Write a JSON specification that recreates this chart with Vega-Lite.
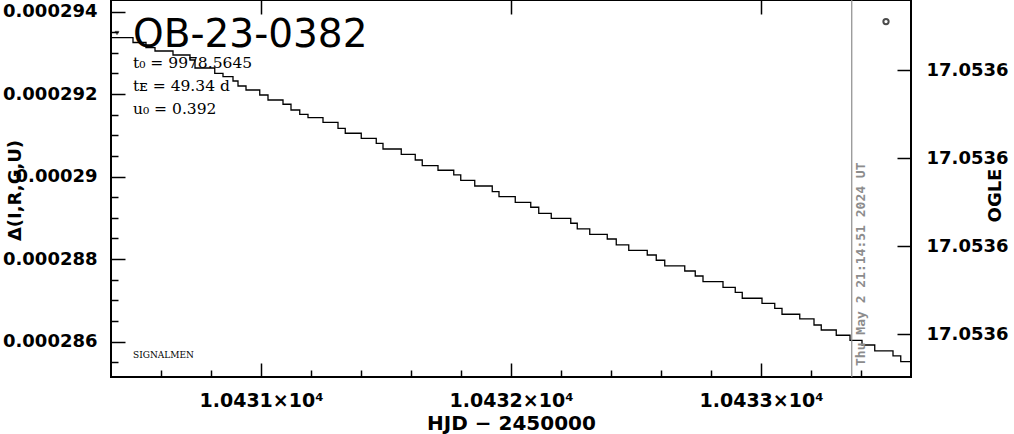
{
  "$schema": "https://vega.github.io/schema/vega-lite/v6.json",
  "width": 800,
  "height": 377,
  "autosize": {"type": "none"},
  "padding": {"left": 111, "top": 0, "right": 103, "bottom": 57},
  "background": "white",
  "config": {
    "view": {"stroke": "black", "strokeWidth": 2},
    "font": "DejaVu Sans",
    "axis": {"domain": false, "grid": false, "tickColor": "black", "tickOpacity": 1, "tickWidth": 1.5, "labelColor": "black", "titleColor": "black"}
  },
  "title": {
    "text": "OB-23-0382",
    "subtitle": ["t₀ = 9978.5645", "tᴇ = 49.34 d", "u₀ = 0.392"],
    "orient": "top",
    "anchor": "start",
    "frame": "group",
    "offset": 0,
    "dx": 22,
    "dy": 118,
    "font": "DejaVu Sans",
    "fontSize": 39,
    "fontWeight": "normal",
    "color": "black",
    "subtitleFont": "DejaVu Serif",
    "subtitleFontSize": 15.5,
    "subtitleColor": "black",
    "subtitleLineHeight": 23,
    "subtitlePadding": 1
  },
  "layer": [
    {
      "data": {"values": [
        {"hjd": 10430.400, "delta": 0.000293366},
        {"hjd": 10430.488, "delta": 0.000293250},
        {"hjd": 10430.540, "delta": 0.000293124},
        {"hjd": 10430.576, "delta": 0.000293044},
        {"hjd": 10430.648, "delta": 0.000292947},
        {"hjd": 10430.716, "delta": 0.000292825},
        {"hjd": 10430.736, "delta": 0.000292632},
        {"hjd": 10430.815, "delta": 0.000292503},
        {"hjd": 10430.848, "delta": 0.000292421},
        {"hjd": 10430.888, "delta": 0.000292316},
        {"hjd": 10430.908, "delta": 0.000292195},
        {"hjd": 10430.940, "delta": 0.000292098},
        {"hjd": 10430.995, "delta": 0.000291977},
        {"hjd": 10431.028, "delta": 0.000291856},
        {"hjd": 10431.088, "delta": 0.000291752},
        {"hjd": 10431.120, "delta": 0.000291613},
        {"hjd": 10431.155, "delta": 0.000291509},
        {"hjd": 10431.188, "delta": 0.000291427},
        {"hjd": 10431.248, "delta": 0.000291315},
        {"hjd": 10431.308, "delta": 0.000291170},
        {"hjd": 10431.337, "delta": 0.000291049},
        {"hjd": 10431.401, "delta": 0.000290927},
        {"hjd": 10431.461, "delta": 0.000290806},
        {"hjd": 10431.488, "delta": 0.000290668},
        {"hjd": 10431.561, "delta": 0.000290539},
        {"hjd": 10431.617, "delta": 0.000290401},
        {"hjd": 10431.645, "delta": 0.000290263},
        {"hjd": 10431.708, "delta": 0.000290152},
        {"hjd": 10431.771, "delta": 0.000290038},
        {"hjd": 10431.799, "delta": 0.000289909},
        {"hjd": 10431.855, "delta": 0.000289771},
        {"hjd": 10431.925, "delta": 0.000289633},
        {"hjd": 10431.952, "delta": 0.000289512},
        {"hjd": 10432.017, "delta": 0.000289376},
        {"hjd": 10432.079, "delta": 0.000289255},
        {"hjd": 10432.111, "delta": 0.000289109},
        {"hjd": 10432.161, "delta": 0.000288988},
        {"hjd": 10432.239, "delta": 0.000288867},
        {"hjd": 10432.265, "delta": 0.000288729},
        {"hjd": 10432.315, "delta": 0.000288600},
        {"hjd": 10432.385, "delta": 0.000288486},
        {"hjd": 10432.421, "delta": 0.000288341},
        {"hjd": 10432.471, "delta": 0.000288212},
        {"hjd": 10432.545, "delta": 0.000288098},
        {"hjd": 10432.581, "delta": 0.000287970},
        {"hjd": 10432.615, "delta": 0.000287832},
        {"hjd": 10432.695, "delta": 0.000287710},
        {"hjd": 10432.737, "delta": 0.000287589},
        {"hjd": 10432.768, "delta": 0.000287451},
        {"hjd": 10432.848, "delta": 0.000287315},
        {"hjd": 10432.897, "delta": 0.000287194},
        {"hjd": 10432.925, "delta": 0.000287049},
        {"hjd": 10433.004, "delta": 0.000286927},
        {"hjd": 10433.055, "delta": 0.000286806},
        {"hjd": 10433.084, "delta": 0.000286661},
        {"hjd": 10433.155, "delta": 0.000286547},
        {"hjd": 10433.212, "delta": 0.000286401},
        {"hjd": 10433.241, "delta": 0.000286280},
        {"hjd": 10433.301, "delta": 0.000286152},
        {"hjd": 10433.356, "delta": 0.000286030},
        {"hjd": 10433.404, "delta": 0.000285916},
        {"hjd": 10433.455, "delta": 0.000285771},
        {"hjd": 10433.528, "delta": 0.000285650},
        {"hjd": 10433.559, "delta": 0.000285512},
        {"hjd": 10433.600, "delta": 0.000285512}
      ]},
      "mark": {"type": "line", "interpolate": "step-after", "color": "black", "strokeWidth": 1.3, "clip": true},
      "encoding": {
        "x": {
          "field": "hjd", "type": "quantitative",
          "scale": {"domain": [10430.4, 10433.6], "nice": false, "zero": false},
          "axis": {
            "orient": "bottom",
            "values": [10431, 10432, 10433],
            "ticks": true,
            "tickSize": -14,
            "labelExpr": "format(datum.value / 10000, '.4f') + '×10⁴'",
            "labelFont": "DejaVu Sans", "labelFontSize": 19, "labelFontWeight": "bold",
            "labelPadding": 28, "labelBaseline": "top", "labelFlush": false, "labelOverlap": false,
            "title": "HJD − 2450000",
            "titleFont": "DejaVu Sans", "titleFontSize": 20, "titleFontWeight": "bold",
            "titleY": 46, "titleBaseline": "middle"
          }
        },
        "y": {
          "field": "delta", "type": "quantitative",
          "scale": {"domain": [0.00028514, 0.00029428], "nice": false, "zero": false},
          "axis": {
            "orient": "left",
            "values": [0.000286, 0.000288, 0.00029, 0.000292, 0.000294],
            "tickSize": -14,
            "labelExpr": "format(datum.value, '~g')",
            "labelFont": "DejaVu Sans", "labelFontSize": 18, "labelFontWeight": "bold",
            "labelPadding": 28, "labelFlush": false, "labelOverlap": false,
            "title": "Δ(I,R,G,U)",
            "titleFont": "DejaVu Sans", "titleFontSize": 18, "titleFontWeight": "bold",
            "titleAngle": 270, "titleX": -96, "titleY": 190, "titleAlign": "center", "titleBaseline": "middle"
          }
        }
      }
    },
    {
      "data": {"values": [{"hjd": 10432.0, "delta": 0.00029}]},
      "mark": {"type": "point", "opacity": 0},
      "encoding": {
        "x": {
          "field": "hjd", "type": "quantitative",
          "scale": {"domain": [10430.4, 10433.6], "nice": false, "zero": false},
          "axis": {
            "orient": "bottom",
            "values": [10430.6, 10430.8, 10431.2, 10431.4, 10431.6, 10431.8, 10432.2, 10432.4, 10432.6, 10432.8, 10433.2, 10433.4],
            "ticks": true, "tickSize": -7,
            "labels": false, "title": null
          }
        },
        "y": {
          "field": "delta", "type": "quantitative",
          "scale": {"domain": [0.00028514, 0.00029428], "nice": false, "zero": false},
          "axis": {
            "orient": "left",
            "values": [0.0002855, 0.000287, 0.0002865, 0.0002875, 0.0002885, 0.000289, 0.0002895, 0.0002905, 0.000291, 0.0002915, 0.0002925, 0.000293, 0.0002935],
            "tickSize": -7, "labels": false, "title": null
          }
        }
      }
    },
    {
      "data": {"values": [{"hjd": 10433.363, "delta": 0.0002854074, "stamp": "Thu May  2 21:14:51 2024 UT"}]},
      "layer": [
        {
          "mark": {"type": "rule", "color": "#8c8c8c", "strokeWidth": 1.2},
          "encoding": {"x": {"field": "hjd", "type": "quantitative", "scale": {"domain": [10430.4, 10433.6], "nice": false, "zero": false}, "axis": null}}
        },
        {
          "mark": {"type": "text", "angle": 270, "align": "left", "baseline": "top", "dy": 3, "font": "DejaVu Sans Mono", "fontSize": 13, "fontWeight": "bold", "color": "#8c8c8c"},
          "encoding": {
            "x": {"field": "hjd", "type": "quantitative", "scale": {"domain": [10430.4, 10433.6], "nice": false, "zero": false}, "axis": null},
            "y": {"field": "delta", "type": "quantitative", "scale": {"domain": [0.00028514, 0.00029428], "nice": false, "zero": false}, "axis": null},
            "text": {"field": "stamp"}
          }
        }
      ]
    },
    {
      "data": {"values": [{"hjd": 10430.488, "delta": 0.000285674, "tag": "SIGNALMEN"}]},
      "mark": {"type": "text", "align": "left", "baseline": "middle", "font": "DejaVu Serif", "fontSize": 9, "color": "black"},
      "encoding": {
        "x": {"field": "hjd", "type": "quantitative", "scale": {"domain": [10430.4, 10433.6], "nice": false, "zero": false}, "axis": null},
        "y": {"field": "delta", "type": "quantitative", "scale": {"domain": [0.00028514, 0.00029428], "nice": false, "zero": false}, "axis": null},
        "text": {"field": "tag"}
      }
    },
    {
      "data": {"values": [{"hjd": 10430.424, "delta": 0.00029348}]},
      "mark": {"type": "point", "shape": "triangle-down", "size": 14, "filled": false, "color": "black", "strokeWidth": 1},
      "encoding": {
        "x": {"field": "hjd", "type": "quantitative", "scale": {"domain": [10430.4, 10433.6], "nice": false, "zero": false}, "axis": null},
        "y": {"field": "delta", "type": "quantitative", "scale": {"domain": [0.00028514, 0.00029428], "nice": false, "zero": false}, "axis": null}
      }
    },
    {
      "data": {"values": [{"hjd": 10433.5, "ogle": 17.0535845}]},
      "mark": {"type": "point", "shape": "circle", "size": 28, "filled": false, "color": "black", "strokeWidth": 2},
      "encoding": {
        "x": {
          "field": "hjd", "type": "quantitative",
          "scale": {"domain": [10430.4, 10433.6], "nice": false, "zero": false},
          "axis": {
            "orient": "top",
            "values": [10431, 10432, 10433],
            "ticks": true,
            "tickSize": -14,
            "labels": false,
            "title": null
          }
        },
        "y": {
          "field": "ogle", "type": "quantitative",
          "scale": {"domain": [17.053582045, 17.053624885], "reverse": true, "nice": false, "zero": false},
          "axis": {
            "orient": "right",
            "values": [17.05359, 17.0536, 17.05361, 17.05362],
            "format": ".4f",
            "tickSize": -14,
            "labelFont": "DejaVu Sans", "labelFontSize": 18, "labelFontWeight": "bold",
            "labelPadding": 29, "labelFlush": false, "labelOverlap": false,
            "title": "OGLE",
            "titleFont": "DejaVu Sans", "titleFontSize": 18, "titleFontWeight": "bold",
            "titleAngle": 270, "titleX": 84, "titleY": 195, "titleAlign": "center", "titleBaseline": "middle"
          }
        }
      }
    }
  ],
  "resolve": {"scale": {"x": "independent", "y": "independent"}, "axis": {"x": "independent", "y": "independent"}}
}
